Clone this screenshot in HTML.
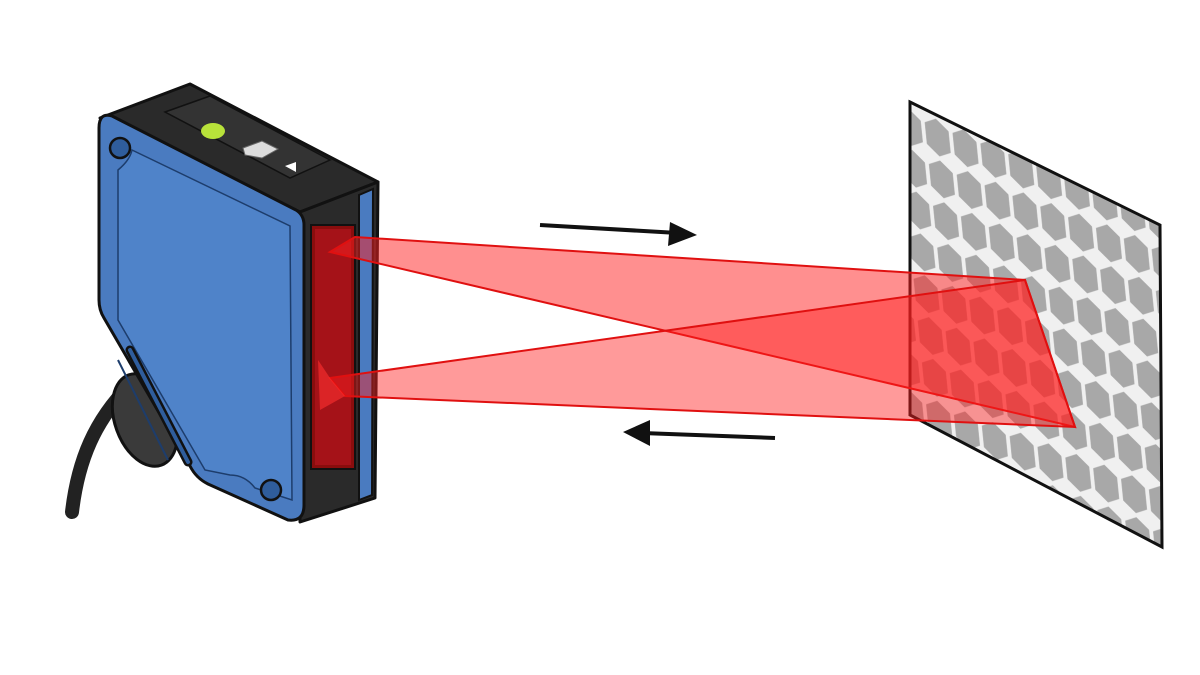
<!DOCTYPE html>
<html><head><meta charset="utf-8"><style>html,body{margin:0;padding:0;background:#fff}svg{display:block}</style></head>
<body>
<svg width="1200" height="675" viewBox="0 0 1200 675" xmlns="http://www.w3.org/2000/svg">
<defs>
<pattern id="hex" width="28" height="40" patternUnits="userSpaceOnUse" patternTransform="skewY(26) rotate(-6)">
<rect width="28" height="40" fill="#f0f0f0"/>
<path d="M14 2.5 L25.5 10 L25.5 30 L14 37.5 L2.5 30 L2.5 10 Z" fill="#a8a8a8" stroke="#a8a8a8" stroke-width="1" stroke-linejoin="round"/>
</pattern>
<clipPath id="refl"><polygon points="910,102 1160,225 1162,547 910,415"/></clipPath>
</defs>
<rect width="1200" height="675" fill="#fff"/>
<!-- reflector -->
<g clip-path="url(#refl)"><rect x="900" y="90" width="270" height="470" fill="url(#hex)"/></g>
<polygon points="910,102 1160,225 1162,547 910,415" fill="none" stroke="#111" stroke-width="3"/>

<!-- cable -->
<path d="M130 385 C 95 420, 78 460, 72 512" fill="none" stroke="#222" stroke-width="14" stroke-linecap="round"/>
<ellipse cx="145" cy="420" rx="30" ry="48" fill="#3a3a3a" stroke="#111" stroke-width="3" transform="rotate(-20 145 420)"/>

<!-- sensor top -->
<polygon points="100,118 190,84 378,182 300,212" fill="#2a2a2a" stroke="#111" stroke-width="3" stroke-linejoin="round"/>
<polygon points="165,112 210,96 330,160 290,178" fill="#333" stroke="#111" stroke-width="1.5"/>
<ellipse cx="213" cy="131" rx="12" ry="8" fill="#b8e23a"/>
<polygon points="243,148 262,141 278,149 262,158 245,155" fill="#ddd" stroke="#666"/>
<polygon points="285,166 296,162 296,172" fill="#fff"/>
<!-- right side -->
<polygon points="300,212 378,182 375,498 300,522" fill="#2a2a2a" stroke="#111" stroke-width="3" stroke-linejoin="round"/>
<polygon points="359,195 373,189 372,495 359,500" fill="#4a7bc0" stroke="#111" stroke-width="2"/>
<rect x="311" y="225" width="44" height="244" fill="#8a0d0d" stroke="#111" stroke-width="2"/>
<rect x="315" y="229" width="36" height="236" fill="#a51218"/>
<!-- front face -->
<path d="M112 116 L296 210 Q304 215 304 225 L304 505 Q304 522 288 520 L208 484 Q196 478 190 466 L104 318 Q99 310 99 300 L99 128 Q99 112 112 116 Z" fill="#4a7bc0" stroke="#111" stroke-width="3" stroke-linejoin="round"/>
<path d="M132 150 L290 226 L292 500 L255 488 Q245 475 230 475 L205 470 L118 320 L118 170 Q130 160 132 150 Z" fill="#4f83c9" stroke="#1d3d6c" stroke-width="1.5"/>
<circle cx="120" cy="148" r="10" fill="#2f5d9c" stroke="#111" stroke-width="2.5"/>
<circle cx="271" cy="490" r="10" fill="#2f5d9c" stroke="#111" stroke-width="2.5"/>
<path d="M130 350 L188 462" stroke="#111" stroke-width="9" stroke-linecap="round"/>
<path d="M130 350 L188 462" stroke="#2f5d9c" stroke-width="4" stroke-linecap="round"/>
<path d="M118 360 L168 460" stroke="#1d3d6c" stroke-width="2"/>

<!-- beams -->
<polygon points="355,237 330,252 1075,427 1025,280" fill="#ff2020" fill-opacity="0.5" stroke="#e01010" stroke-width="2"/>
<polygon points="1025,280 1075,427 345,396 330,378" fill="#ff2020" fill-opacity="0.45" stroke="#e01010" stroke-width="2"/>
<polygon points="330,378 345,396 320,410 318,360" fill="#ff3030" fill-opacity="0.6"/>

<!-- arrows -->
<line x1="540" y1="225" x2="678" y2="233" stroke="#111" stroke-width="4"/>
<polygon points="697,235 670,222 668,246" fill="#111"/>
<line x1="775" y1="438" x2="642" y2="433" stroke="#111" stroke-width="4"/>
<polygon points="623,432 650,420 650,446" fill="#111"/>
</svg>
</body></html>
